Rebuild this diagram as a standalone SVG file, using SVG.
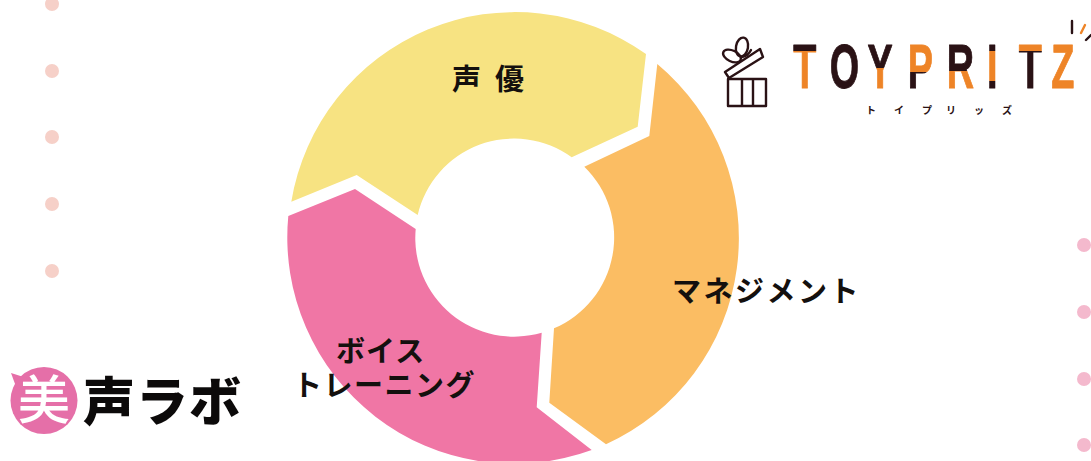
<svg xmlns="http://www.w3.org/2000/svg" width="1091" height="461" viewBox="0 0 1091 461">
<style>
.dot{fill:#f6d0c8}
.dot2{fill:#f4b9cd}
.lbl{font-family:"Noto Sans CJK JP","Noto Sans",sans-serif;font-weight:700;font-size:29px;fill:#14100e}
.logo{font-family:"Noto Sans CJK JP","Noto Sans",sans-serif;font-weight:900}
.ln{fill:none;stroke:#2a1215;stroke-width:2.4;stroke-linejoin:round;stroke-linecap:round}
.tp tspan{stroke-width:1;stroke-linejoin:round}
</style>
<defs>
<linearGradient id="gT" gradientUnits="userSpaceOnUse" x1="0" y1="43" x2="0" y2="89"><stop offset=".17" stop-color="#2a1215"/><stop offset=".17" stop-color="#ee8427"/></linearGradient>
<linearGradient id="gT2" gradientUnits="userSpaceOnUse" x1="0" y1="43" x2="0" y2="89"><stop offset=".17" stop-color="#ee8427"/><stop offset=".17" stop-color="#2a1215"/></linearGradient>
<linearGradient id="gY" gradientUnits="userSpaceOnUse" x1="0" y1="43" x2="0" y2="89"><stop offset=".55" stop-color="#2a1215"/><stop offset=".55" stop-color="#ee8427"/></linearGradient>
<linearGradient id="gP" gradientUnits="userSpaceOnUse" x1="0" y1="43" x2="0" y2="89"><stop offset=".62" stop-color="#ee8427"/><stop offset=".62" stop-color="#2a1215"/></linearGradient>
<linearGradient id="gR" gradientUnits="userSpaceOnUse" x1="0" y1="43" x2="0" y2="89"><stop offset=".6" stop-color="#2a1215"/><stop offset=".6" stop-color="#ee8427"/></linearGradient>
<linearGradient id="gI" gradientUnits="userSpaceOnUse" x1="0" y1="43" x2="0" y2="89"><stop offset=".18" stop-color="#2a1215"/><stop offset=".18" stop-color="#ee8427"/><stop offset=".82" stop-color="#ee8427"/><stop offset=".82" stop-color="#2a1215"/></linearGradient>
</defs>
<g id="dots">
<circle class="dot" cx="52" cy="4" r="7"/><circle class="dot" cx="52" cy="71" r="7"/><circle class="dot" cx="52" cy="137" r="7"/><circle class="dot" cx="52" cy="204" r="7"/><circle class="dot" cx="52" cy="271" r="7"/>
<circle class="dot2" cx="1084" cy="245" r="7"/><circle class="dot2" cx="1084" cy="312" r="7"/><circle class="dot2" cx="1084" cy="379" r="7"/><circle class="dot2" cx="1084" cy="445" r="7"/>
</g>
<g id="node-seiyu">
<path fill="#f7e382" d="M291.3 201.7A226.5 226.5 0 0 1 646 54L637.7 126.7L571.7 157.3A98.7 98.7 0 0 0 417.7 215L356.7 175Z"/>
<text class="lbl" x="452" y="90" letter-spacing="14">声優</text>
</g>
<g id="node-management">
<path fill="#fbbd63" d="M657.3 64A226.5 226.5 0 0 1 606 444.3L549.3 402.7L554 328.3A98.7 98.7 0 0 0 584.3 166.7L649.3 136Z"/>
<text class="lbl" x="672" y="302" letter-spacing="2.5">マネジメント</text>
</g>
<g id="node-voice">
<path fill="#f076a5" d="M288.3 216L355 189L415.7 229A98.7 98.7 0 0 0 541.7 332.7L536.7 407.3L591.7 450A226.5 226.5 0 0 1 288.3 216Z"/>
<text class="lbl" x="336" y="362" letter-spacing="1">ボイス</text>
<text class="lbl" x="293" y="396" letter-spacing="1.5">トレーニング</text>
</g>
<g id="logo-biseilab">
<circle cx="44" cy="400.5" r="33.5" fill="#e56fa8"/>
<path fill="#e56fa8" d="M11 373L30 379L18 392Z"/>
<text x="44" y="419" font-family="Noto Sans CJK JP,sans-serif" font-weight="500" font-size="52" fill="#fff" text-anchor="middle">美</text>
<text class="logo" x="83" y="421" font-size="52" fill="#0c0a0a" letter-spacing="1">声ラボ</text>
</g>
<g id="logo-toypritz">
<path class="ln" d="M728 79H766V106H728ZM742 79V106M753 79V106"/>
<path class="ln" d="M725 72L760 49L763 57L729 78Z"/>
<ellipse class="ln" cx="742" cy="47" rx="6" ry="9.5" transform="rotate(10 742 47)"/>
<ellipse class="ln" cx="732" cy="56" rx="9.5" ry="5.5" transform="rotate(25 732 56)"/>
<path class="ln" d="M742 57Q748 56 751 50"/>
<text class="tp" font-family="Liberation Sans,sans-serif" font-weight="700" font-size="63" transform="scale(.6 1)" y="88.5" x="1322 1383 1446 1513 1578 1645 1698 1752"><tspan fill="url(#gT)" stroke="url(#gT)">T</tspan><tspan fill="#2a1215" stroke="#2a1215">O</tspan><tspan fill="url(#gY)" stroke="url(#gY)">Y</tspan><tspan fill="url(#gP)" stroke="url(#gP)">P</tspan><tspan fill="url(#gR)" stroke="url(#gR)">R</tspan><tspan fill="url(#gI)" stroke="url(#gI)">I</tspan><tspan fill="url(#gT2)" stroke="url(#gT2)">T</tspan><tspan fill="#ee8427" stroke="#ee8427">Z</tspan></text>
<text font-family="Noto Sans CJK JP,sans-serif" font-weight="700" font-size="10" fill="#2a1215" x="866 894 922 946 974 1002" y="114">トイプリッズ</text>
<path class="ln" d="M1072 21V33M1086 40L1091 35"/>
<path class="ln" d="M1085 25L1081 33" style="stroke:#ee8427"/>
</g>
</svg>
